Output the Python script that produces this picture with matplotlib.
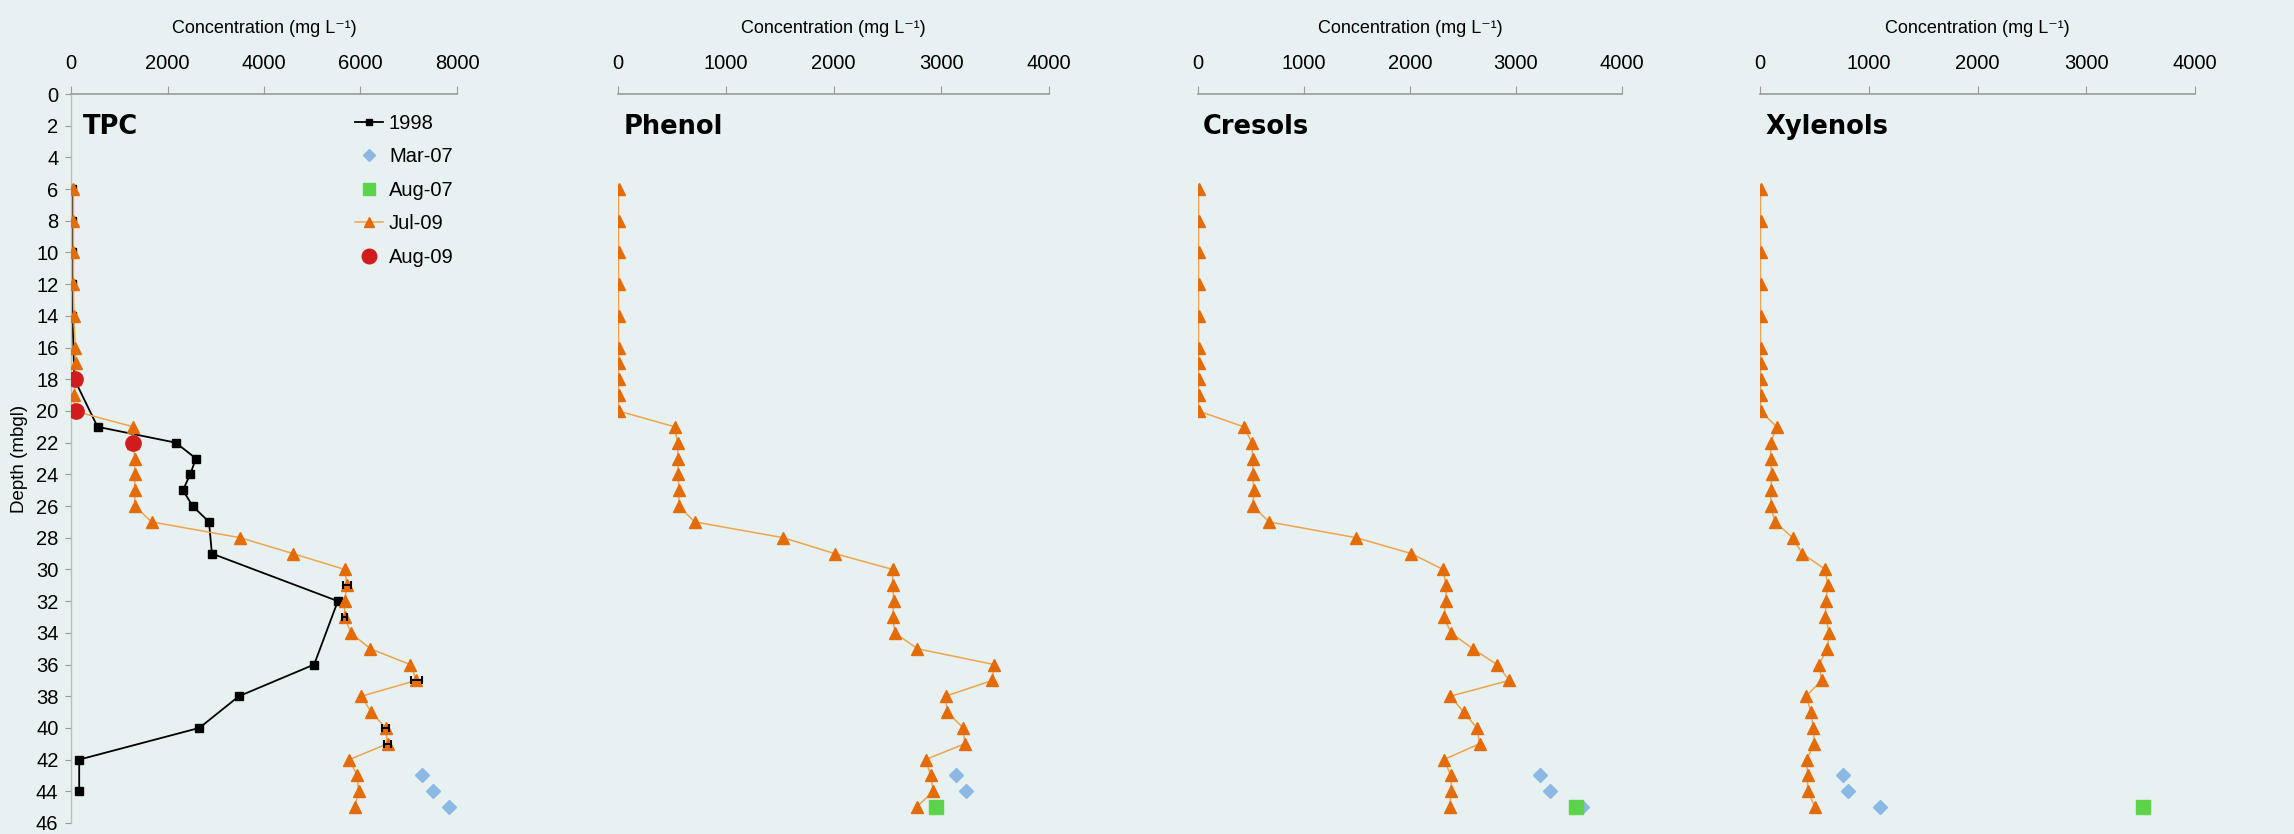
import matplotlib
matplotlib.use('Agg')
import matplotlib.pyplot as plt
from matplotlib.lines import Line2D
import matplotlib.transforms as mtransforms

BG = '#e8f1f1'
plt.rcParams['font.family'] = ['Liberation Sans', 'DejaVu Sans']

# --- data (depth in m below ground, conc. in mg/L) ---
depth_1998 = [6, 8, 10, 12, 14, 18, 21, 22, 23, 24, 25, 26, 27, 29, 32, 36, 38, 40, 42, 44]
tpc_1998 = [30, 30, 30, 30, 30, 70, 550, 2170, 2590, 2470, 2320, 2520, 2860, 2920,
            5530, 5040, 3480, 2660, 170, 170]

depth_jul09 = [6, 8, 10, 12, 14, 16, 17, 18, 19, 20, 21, 22, 23, 24, 25, 26, 27, 28, 29,
               30, 31, 32, 33, 34, 35, 36, 37, 38, 39, 40, 41, 42, 43, 44, 45]
tpc_jul09 = [50, 50, 50, 50, 60, 90, 95, 80, 70, 60, 1290, 1290, 1320, 1320, 1320, 1320,
             1670, 3510, 4600, 5670, 5720, 5670, 5670, 5800, 6200, 7030, 7160, 6020, 6220,
             6520, 6560, 5770, 5930, 5960, 5880]
phenol_jul09 = [5, 5, 5, 5, 5, 5, 5, 5, 5, 5, 525, 553, 556, 559, 565, 565, 711, 1535, 2011,
                2549, 2549, 2561, 2549, 2570, 2777, 3488, 3475, 3040, 3055, 3204, 3219, 2854,
                2904, 2925, 2771]
cresols_jul09 = [5, 5, 5, 5, 5, 5, 5, 5, 5, 5, 431, 509, 516, 519, 525, 519, 670, 1494, 2013,
                 2311, 2340, 2340, 2318, 2387, 2591, 2821, 2937, 2381, 2506, 2632, 2657, 2318,
                 2387, 2390, 2374]
xylenols_jul09 = [5, 5, 5, 5, 5, 5, 5, 5, 5, 5, 153, 98, 98, 107, 101, 98, 138, 300, 389,
                  601, 622, 607, 601, 638, 619, 543, 567, 423, 469, 490, 500, 429, 438, 438, 506]

depth_mar07 = [43, 44, 45]
tpc_mar07 = [7280, 7500, 7840]
phenol_mar07 = [3140, 3230, 2950]
cresols_mar07 = [3230, 3320, 3620]
xylenols_mar07 = [760, 806, 1107]

depth_aug07 = [45]
phenol_aug07 = [2950]
cresols_aug07 = [3570]
xylenols_aug07 = [3520]

depth_aug09 = [18, 20, 22]
tpc_aug09 = [80, 100, 1290]

# error bars on some Jul-09 TPC points
err_depth = [31, 33, 37, 40, 41]
tpc_err = [90, 60, 110, 80, 80]

panels = [
    # title, xmax, step, jul09, mar07, aug07, 1998, aug09, left px, right px
    ('TPC', 8000, 2000, tpc_jul09, tpc_mar07, None, tpc_1998, tpc_aug09, 71, 457),
    ('Phenol', 4000, 1000, phenol_jul09, phenol_mar07, phenol_aug07, None, None, 618, 1049),
    ('Cresols', 4000, 1000, cresols_jul09, cresols_mar07, cresols_aug07, None, None, 1198, 1622),
    ('Xylenols', 4000, 1000, xylenols_jul09, xylenols_mar07, xylenols_aug07, None, None, 1760, 2195),
]

c_1998 = 'black'
c_mar07 = '#8cb8e4'
c_aug07 = '#5dd34a'
c_jul09 = '#e36c09'
c_jul09_line = '#eea44a'
c_aug09 = '#d01c1c'

W, H = 2294, 834
fig = plt.figure(figsize=(W / 100, H / 100), dpi=100, facecolor=BG)

ax_top, ax_bot = 94, 823
for i, (title, xmax, step, jul, mar, aug7, y98, aug9, left, right) in enumerate(panels):
    ax = fig.add_axes([left / W, 1 - ax_bot / H, (right - left) / W, (ax_bot - ax_top) / H])
    ax.set_facecolor(BG)

    if y98 is not None:
        ax.plot(y98, depth_1998, color=c_1998, lw=1.3, marker='s', ms=6, zorder=2)
    ax.plot(mar, depth_mar07, ls='none', marker='D', ms=7, color=c_mar07, zorder=3)
    if aug7 is not None:
        ax.plot(aug7, depth_aug07, ls='none', marker='s', ms=10, color=c_aug07, zorder=4)
    ax.plot(jul, depth_jul09, color=c_jul09_line, lw=1.1, marker='^', ms=8.5,
            mfc=c_jul09, mec=c_jul09, zorder=5)
    if title == 'TPC':
        lookup = dict(zip(depth_jul09, jul))
        ax.errorbar([lookup[d] for d in err_depth], err_depth, xerr=tpc_err, fmt='none',
                    ecolor='black', elinewidth=1.4, capsize=3, capthick=1.5, zorder=6)
    if aug9 is not None:
        ax.plot(aug9, depth_aug09, ls='none', marker='o', ms=11, color=c_aug09, zorder=7)

    ax.set_xlim(0, xmax)
    ax.set_ylim(46, 0)
    ax.xaxis.tick_top()
    ax.xaxis.set_label_position('top')
    ax.set_xticks(range(0, xmax + 1, step))
    ax.tick_params(axis='x', direction='out', length=6, color='#9a9a9a', labelsize=14.5, pad=9)
    ax.set_xlabel('Concentration (mg L⁻¹)', fontsize=13, labelpad=15)

    for s in ['bottom', 'right']:
        ax.spines[s].set_visible(False)
    ax.spines['top'].set_color('#9a9a9a')
    ax.spines['top'].set_linewidth(1.2)

    if i == 0:
        ax.set_yticks(range(0, 47, 2))
        ax.tick_params(axis='y', direction='out', length=4, color='#9a9a9a', labelsize=14.5, pad=5)
        ax.spines['left'].set_color('#bdbdbd')
        ax.spines['left'].set_linewidth(1.0)
        ax.set_ylabel('Depth (mbgl)', fontsize=13.5, labelpad=6)
    else:
        ax.set_yticks([])
        ax.spines['left'].set_visible(False)

    trans = mtransforms.blended_transform_factory(ax.transAxes, ax.transData)
    ax.text(0.012 if i else 0.032, 2.1, title, transform=trans, fontsize=18.5, fontweight='bold',
            family='DejaVu Sans', va='center', ha='left')

    if i == 0:
        handles = [
            Line2D([], [], color=c_1998, lw=1.3, marker='s', ms=5),
            Line2D([], [], ls='none', marker='D', ms=6, color=c_mar07),
            Line2D([], [], ls='none', marker='s', ms=9, color=c_aug07),
            Line2D([], [], color=c_jul09_line, lw=1.1, marker='^', ms=7.5, mfc=c_jul09, mec=c_jul09),
            Line2D([], [], ls='none', marker='o', ms=10.5, color=c_aug09),
        ]
        ax.legend(handles, ['1998', 'Mar-07', 'Aug-07', 'Jul-09', 'Aug-09'],
                  loc='upper left', bbox_to_anchor=(0.735, 0.973), frameon=False,
                  fontsize=14.5, handlelength=1.4, handletextpad=0.3, labelspacing=0.72,
                  borderpad=0, borderaxespad=0)

fig.savefig('out.png', dpi=100, facecolor=BG)
